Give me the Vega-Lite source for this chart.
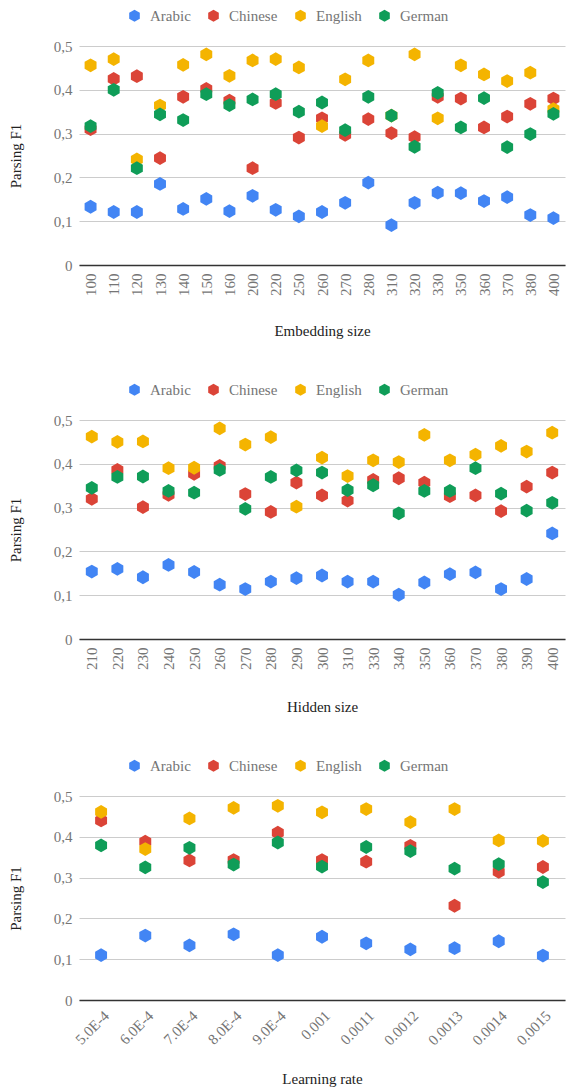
{
  "$schema": "https://vega.github.io/schema/vega-lite/v6.json",
  "padding": {"left": 8, "top": 8, "right": 1, "bottom": 0},
  "background": "white",
  "spacing": 43,
  "config": {
    "font": "Liberation Serif",
    "view": {"stroke": null},
    "axis": {"labelFont": "Liberation Serif", "titleFont": "Liberation Serif", "labelFontSize": 15, "titleFontSize": 15, "labelColor": "#757575", "titleColor": "#222222", "titleFontWeight": "normal"},
    "legend": {"labelFont": "Liberation Serif", "labelFontSize": 15, "labelColor": "#757575"}
  },
  "datasets": {
    "emb": [
      {"x":"100","lang":"Arabic","f1":0.133},{"x":"100","lang":"Chinese","f1":0.310},{"x":"100","lang":"English","f1":0.456},{"x":"100","lang":"German","f1":0.317},
      {"x":"110","lang":"Arabic","f1":0.121},{"x":"110","lang":"Chinese","f1":0.425},{"x":"110","lang":"English","f1":0.470},{"x":"110","lang":"German","f1":0.400},
      {"x":"120","lang":"Arabic","f1":0.121},{"x":"120","lang":"Chinese","f1":0.431},{"x":"120","lang":"English","f1":0.241},{"x":"120","lang":"German","f1":0.221},
      {"x":"130","lang":"Arabic","f1":0.185},{"x":"130","lang":"Chinese","f1":0.244},{"x":"130","lang":"English","f1":0.364},{"x":"130","lang":"German","f1":0.344},
      {"x":"140","lang":"Arabic","f1":0.128},{"x":"140","lang":"Chinese","f1":0.384},{"x":"140","lang":"English","f1":0.457},{"x":"140","lang":"German","f1":0.331},
      {"x":"150","lang":"Arabic","f1":0.151},{"x":"150","lang":"Chinese","f1":0.402},{"x":"150","lang":"English","f1":0.481},{"x":"150","lang":"German","f1":0.390},
      {"x":"160","lang":"Arabic","f1":0.123},{"x":"160","lang":"Chinese","f1":0.375},{"x":"160","lang":"English","f1":0.432},{"x":"160","lang":"German","f1":0.365},
      {"x":"200","lang":"Arabic","f1":0.158},{"x":"200","lang":"Chinese","f1":0.221},{"x":"200","lang":"English","f1":0.467},{"x":"200","lang":"German","f1":0.378},
      {"x":"220","lang":"Arabic","f1":0.126},{"x":"220","lang":"Chinese","f1":0.370},{"x":"220","lang":"English","f1":0.470},{"x":"220","lang":"German","f1":0.390},
      {"x":"250","lang":"Arabic","f1":0.111},{"x":"250","lang":"Chinese","f1":0.291},{"x":"250","lang":"English","f1":0.451},{"x":"250","lang":"German","f1":0.350},
      {"x":"260","lang":"Arabic","f1":0.121},{"x":"260","lang":"Chinese","f1":0.335},{"x":"260","lang":"English","f1":0.317},{"x":"260","lang":"German","f1":0.371},
      {"x":"270","lang":"Arabic","f1":0.142},{"x":"270","lang":"Chinese","f1":0.297},{"x":"270","lang":"English","f1":0.424},{"x":"270","lang":"German","f1":0.308},
      {"x":"280","lang":"Arabic","f1":0.188},{"x":"280","lang":"Chinese","f1":0.333},{"x":"280","lang":"English","f1":0.467},{"x":"280","lang":"German","f1":0.384},
      {"x":"310","lang":"Arabic","f1":0.091},{"x":"310","lang":"Chinese","f1":0.301},{"x":"310","lang":"English","f1":0.341},{"x":"310","lang":"German","f1":0.341},
      {"x":"320","lang":"Arabic","f1":0.142},{"x":"320","lang":"Chinese","f1":0.292},{"x":"320","lang":"English","f1":0.481},{"x":"320","lang":"German","f1":0.270},
      {"x":"330","lang":"Arabic","f1":0.165},{"x":"330","lang":"Chinese","f1":0.384},{"x":"330","lang":"English","f1":0.335},{"x":"330","lang":"German","f1":0.393},
      {"x":"350","lang":"Arabic","f1":0.164},{"x":"350","lang":"Chinese","f1":0.380},{"x":"350","lang":"English","f1":0.456},{"x":"350","lang":"German","f1":0.314},
      {"x":"360","lang":"Arabic","f1":0.146},{"x":"360","lang":"Chinese","f1":0.314},{"x":"360","lang":"English","f1":0.435},{"x":"360","lang":"German","f1":0.381},
      {"x":"370","lang":"Arabic","f1":0.155},{"x":"370","lang":"Chinese","f1":0.339},{"x":"370","lang":"English","f1":0.420},{"x":"370","lang":"German","f1":0.269},
      {"x":"380","lang":"Arabic","f1":0.114},{"x":"380","lang":"Chinese","f1":0.368},{"x":"380","lang":"English","f1":0.439},{"x":"380","lang":"German","f1":0.299},
      {"x":"400","lang":"Arabic","f1":0.107},{"x":"400","lang":"Chinese","f1":0.380},{"x":"400","lang":"English","f1":0.356},{"x":"400","lang":"German","f1":0.345}
    ],
    "hid": [
      {"x":"210","lang":"Arabic","f1":0.154},{"x":"210","lang":"Chinese","f1":0.320},{"x":"210","lang":"English","f1":0.462},{"x":"210","lang":"German","f1":0.345},
      {"x":"220","lang":"Arabic","f1":0.160},{"x":"220","lang":"Chinese","f1":0.386},{"x":"220","lang":"English","f1":0.450},{"x":"220","lang":"German","f1":0.370},
      {"x":"230","lang":"Arabic","f1":0.141},{"x":"230","lang":"Chinese","f1":0.301},{"x":"230","lang":"English","f1":0.451},{"x":"230","lang":"German","f1":0.371},
      {"x":"240","lang":"Arabic","f1":0.169},{"x":"240","lang":"Chinese","f1":0.329},{"x":"240","lang":"English","f1":0.390},{"x":"240","lang":"German","f1":0.338},
      {"x":"250","lang":"Arabic","f1":0.153},{"x":"250","lang":"Chinese","f1":0.377},{"x":"250","lang":"English","f1":0.391},{"x":"250","lang":"German","f1":0.334},
      {"x":"260","lang":"Arabic","f1":0.124},{"x":"260","lang":"Chinese","f1":0.395},{"x":"260","lang":"English","f1":0.481},{"x":"260","lang":"German","f1":0.386},
      {"x":"270","lang":"Arabic","f1":0.114},{"x":"270","lang":"Chinese","f1":0.331},{"x":"270","lang":"English","f1":0.444},{"x":"270","lang":"German","f1":0.297},
      {"x":"280","lang":"Arabic","f1":0.131},{"x":"280","lang":"Chinese","f1":0.290},{"x":"280","lang":"English","f1":0.461},{"x":"280","lang":"German","f1":0.370},
      {"x":"290","lang":"Arabic","f1":0.139},{"x":"290","lang":"Chinese","f1":0.357},{"x":"290","lang":"English","f1":0.302},{"x":"290","lang":"German","f1":0.385},
      {"x":"300","lang":"Arabic","f1":0.145},{"x":"300","lang":"Chinese","f1":0.328},{"x":"300","lang":"English","f1":0.414},{"x":"300","lang":"German","f1":0.380},
      {"x":"310","lang":"Arabic","f1":0.131},{"x":"310","lang":"Chinese","f1":0.316},{"x":"310","lang":"English","f1":0.372},{"x":"310","lang":"German","f1":0.340},
      {"x":"330","lang":"Arabic","f1":0.131},{"x":"330","lang":"Chinese","f1":0.363},{"x":"330","lang":"English","f1":0.408},{"x":"330","lang":"German","f1":0.351},
      {"x":"340","lang":"Arabic","f1":0.101},{"x":"340","lang":"Chinese","f1":0.367},{"x":"340","lang":"English","f1":0.404},{"x":"340","lang":"German","f1":0.287},
      {"x":"350","lang":"Arabic","f1":0.129},{"x":"350","lang":"Chinese","f1":0.357},{"x":"350","lang":"English","f1":0.466},{"x":"350","lang":"German","f1":0.338},
      {"x":"360","lang":"Arabic","f1":0.148},{"x":"360","lang":"Chinese","f1":0.326},{"x":"360","lang":"English","f1":0.408},{"x":"360","lang":"German","f1":0.338},
      {"x":"370","lang":"Arabic","f1":0.152},{"x":"370","lang":"Chinese","f1":0.328},{"x":"370","lang":"English","f1":0.421},{"x":"370","lang":"German","f1":0.390},
      {"x":"380","lang":"Arabic","f1":0.114},{"x":"380","lang":"Chinese","f1":0.292},{"x":"380","lang":"English","f1":0.441},{"x":"380","lang":"German","f1":0.332},
      {"x":"390","lang":"Arabic","f1":0.137},{"x":"390","lang":"Chinese","f1":0.348},{"x":"390","lang":"English","f1":0.428},{"x":"390","lang":"German","f1":0.293},
      {"x":"400","lang":"Arabic","f1":0.241},{"x":"400","lang":"Chinese","f1":0.380},{"x":"400","lang":"English","f1":0.471},{"x":"400","lang":"German","f1":0.311}
    ],
    "lr": [
      {"x":"5.0E-4","lang":"Arabic","f1":0.110},{"x":"5.0E-4","lang":"Chinese","f1":0.440},{"x":"5.0E-4","lang":"English","f1":0.461},{"x":"5.0E-4","lang":"German","f1":0.379},
      {"x":"6.0E-4","lang":"Arabic","f1":0.158},{"x":"6.0E-4","lang":"Chinese","f1":0.388},{"x":"6.0E-4","lang":"English","f1":0.370},{"x":"6.0E-4","lang":"German","f1":0.325},
      {"x":"7.0E-4","lang":"Arabic","f1":0.134},{"x":"7.0E-4","lang":"Chinese","f1":0.342},{"x":"7.0E-4","lang":"English","f1":0.445},{"x":"7.0E-4","lang":"German","f1":0.373},
      {"x":"8.0E-4","lang":"Arabic","f1":0.161},{"x":"8.0E-4","lang":"Chinese","f1":0.343},{"x":"8.0E-4","lang":"English","f1":0.471},{"x":"8.0E-4","lang":"German","f1":0.332},
      {"x":"9.0E-4","lang":"Arabic","f1":0.110},{"x":"9.0E-4","lang":"Chinese","f1":0.410},{"x":"9.0E-4","lang":"English","f1":0.476},{"x":"9.0E-4","lang":"German","f1":0.386},
      {"x":"0.001","lang":"Arabic","f1":0.155},{"x":"0.001","lang":"Chinese","f1":0.343},{"x":"0.001","lang":"English","f1":0.460},{"x":"0.001","lang":"German","f1":0.327},
      {"x":"0.0011","lang":"Arabic","f1":0.139},{"x":"0.0011","lang":"Chinese","f1":0.339},{"x":"0.0011","lang":"English","f1":0.468},{"x":"0.0011","lang":"German","f1":0.375},
      {"x":"0.0012","lang":"Arabic","f1":0.124},{"x":"0.0012","lang":"Chinese","f1":0.378},{"x":"0.0012","lang":"English","f1":0.436},{"x":"0.0012","lang":"German","f1":0.365},
      {"x":"0.0013","lang":"Arabic","f1":0.127},{"x":"0.0013","lang":"Chinese","f1":0.231},{"x":"0.0013","lang":"English","f1":0.468},{"x":"0.0013","lang":"German","f1":0.322},
      {"x":"0.0014","lang":"Arabic","f1":0.144},{"x":"0.0014","lang":"Chinese","f1":0.314},{"x":"0.0014","lang":"English","f1":0.391},{"x":"0.0014","lang":"German","f1":0.333},
      {"x":"0.0015","lang":"Arabic","f1":0.109},{"x":"0.0015","lang":"Chinese","f1":0.326},{"x":"0.0015","lang":"English","f1":0.390},{"x":"0.0015","lang":"German","f1":0.289}
    ]
  },
  "vconcat": [
    {
      "width": 486, "height": 219,
      "data": {"name": "emb"},
      "mark": {"type": "point", "filled": true, "opacity": 1, "size": 190, "shape": "M0,-1L0.866,-0.5L0.866,0.5L0,1L-0.866,0.5L-0.866,-0.5Z"},
      "encoding": {
        "x": {"field": "x", "type": "nominal", "sort": null, "title": "Embedding size",
              "axis": {"labelFont": "Liberation Serif", "titleFont": "Liberation Serif", "labelFontSize": 15, "titleFontSize": 15, "labelAngle": -90, "ticks": false, "domainColor": "#333333", "domainWidth": 1.5, "labelPadding": 8, "titlePadding": 28, "grid": false}},
        "y": {"field": "f1", "type": "quantitative", "title": "Parsing F1", "scale": {"domain": [0, 0.5]},
              "axis": {"labelFont": "Liberation Serif", "titleFont": "Liberation Serif", "labelFontSize": 15, "titleFontSize": 15, "values": [0, 0.1, 0.2, 0.3, 0.4, 0.5], "format": ".1~f", "labelExpr": "replace(datum.label, '.', ',')", "domain": false, "ticks": false, "gridColor": "#cccccc", "labelPadding": 7, "titlePadding": 30}},
        "color": {"field": "lang", "type": "nominal", "title": null,
                  "scale": {"domain": ["Arabic", "Chinese", "English", "German"], "range": ["#4285F4", "#DB4437", "#F4B400", "#0F9D58"]},
                  "legend": {"labelFont": "Liberation Serif", "labelFontSize": 15, "labelColor": "#757575", "orient": "none", "direction": "horizontal", "legendX": 48, "legendY": -38, "symbolType": "M0,-1L0.866,-0.5L0.866,0.5L0,1L-0.866,0.5L-0.866,-0.5Z", "symbolSize": 150, "symbolStrokeWidth": 0, "columnPadding": 15, "labelOffset": 8}}
      }
    },
    {
      "width": 486, "height": 219,
      "data": {"name": "hid"},
      "mark": {"type": "point", "filled": true, "opacity": 1, "size": 190, "shape": "M0,-1L0.866,-0.5L0.866,0.5L0,1L-0.866,0.5L-0.866,-0.5Z"},
      "encoding": {
        "x": {"field": "x", "type": "nominal", "sort": null, "title": "Hidden size",
              "axis": {"labelFont": "Liberation Serif", "titleFont": "Liberation Serif", "labelFontSize": 15, "titleFontSize": 15, "labelAngle": -90, "ticks": false, "domainColor": "#333333", "domainWidth": 1.5, "labelPadding": 8, "titlePadding": 30, "grid": false}},
        "y": {"field": "f1", "type": "quantitative", "title": "Parsing F1", "scale": {"domain": [0, 0.5]},
              "axis": {"labelFont": "Liberation Serif", "titleFont": "Liberation Serif", "labelFontSize": 15, "titleFontSize": 15, "values": [0, 0.1, 0.2, 0.3, 0.4, 0.5], "format": ".1~f", "labelExpr": "replace(datum.label, '.', ',')", "domain": false, "ticks": false, "gridColor": "#cccccc", "labelPadding": 7, "titlePadding": 30}},
        "color": {"field": "lang", "type": "nominal", "title": null,
                  "scale": {"domain": ["Arabic", "Chinese", "English", "German"], "range": ["#4285F4", "#DB4437", "#F4B400", "#0F9D58"]},
                  "legend": {"labelFont": "Liberation Serif", "labelFontSize": 15, "labelColor": "#757575", "orient": "none", "direction": "horizontal", "legendX": 48, "legendY": -38, "symbolType": "M0,-1L0.866,-0.5L0.866,0.5L0,1L-0.866,0.5L-0.866,-0.5Z", "symbolSize": 150, "symbolStrokeWidth": 0, "columnPadding": 15, "labelOffset": 8}}
      }
    },
    {
      "width": 486, "height": 204,
      "data": {"name": "lr"},
      "mark": {"type": "point", "filled": true, "opacity": 1, "size": 190, "shape": "M0,-1L0.866,-0.5L0.866,0.5L0,1L-0.866,0.5L-0.866,-0.5Z"},
      "encoding": {
        "x": {"field": "x", "type": "nominal", "sort": null, "title": "Learning rate",
              "axis": {"labelFont": "Liberation Serif", "titleFont": "Liberation Serif", "labelFontSize": 15, "titleFontSize": 15, "labelAngle": -45, "ticks": false, "domainColor": "#333333", "domainWidth": 1.5, "labelPadding": 8, "titlePadding": 24, "grid": false}},
        "y": {"field": "f1", "type": "quantitative", "title": "Parsing F1", "scale": {"domain": [0, 0.5]},
              "axis": {"labelFont": "Liberation Serif", "titleFont": "Liberation Serif", "labelFontSize": 15, "titleFontSize": 15, "values": [0, 0.1, 0.2, 0.3, 0.4, 0.5], "format": ".1~f", "labelExpr": "replace(datum.label, '.', ',')", "domain": false, "ticks": false, "gridColor": "#cccccc", "labelPadding": 7, "titlePadding": 30}},
        "color": {"field": "lang", "type": "nominal", "title": null,
                  "scale": {"domain": ["Arabic", "Chinese", "English", "German"], "range": ["#4285F4", "#DB4437", "#F4B400", "#0F9D58"]},
                  "legend": {"labelFont": "Liberation Serif", "labelFontSize": 15, "labelColor": "#757575", "orient": "none", "direction": "horizontal", "legendX": 48, "legendY": -38, "symbolType": "M0,-1L0.866,-0.5L0.866,0.5L0,1L-0.866,0.5L-0.866,-0.5Z", "symbolSize": 150, "symbolStrokeWidth": 0, "columnPadding": 15, "labelOffset": 8}}
      }
    }
  ],
  "resolve": {"scale": {"color": "independent"}, "legend": {"color": "independent"}}
}
